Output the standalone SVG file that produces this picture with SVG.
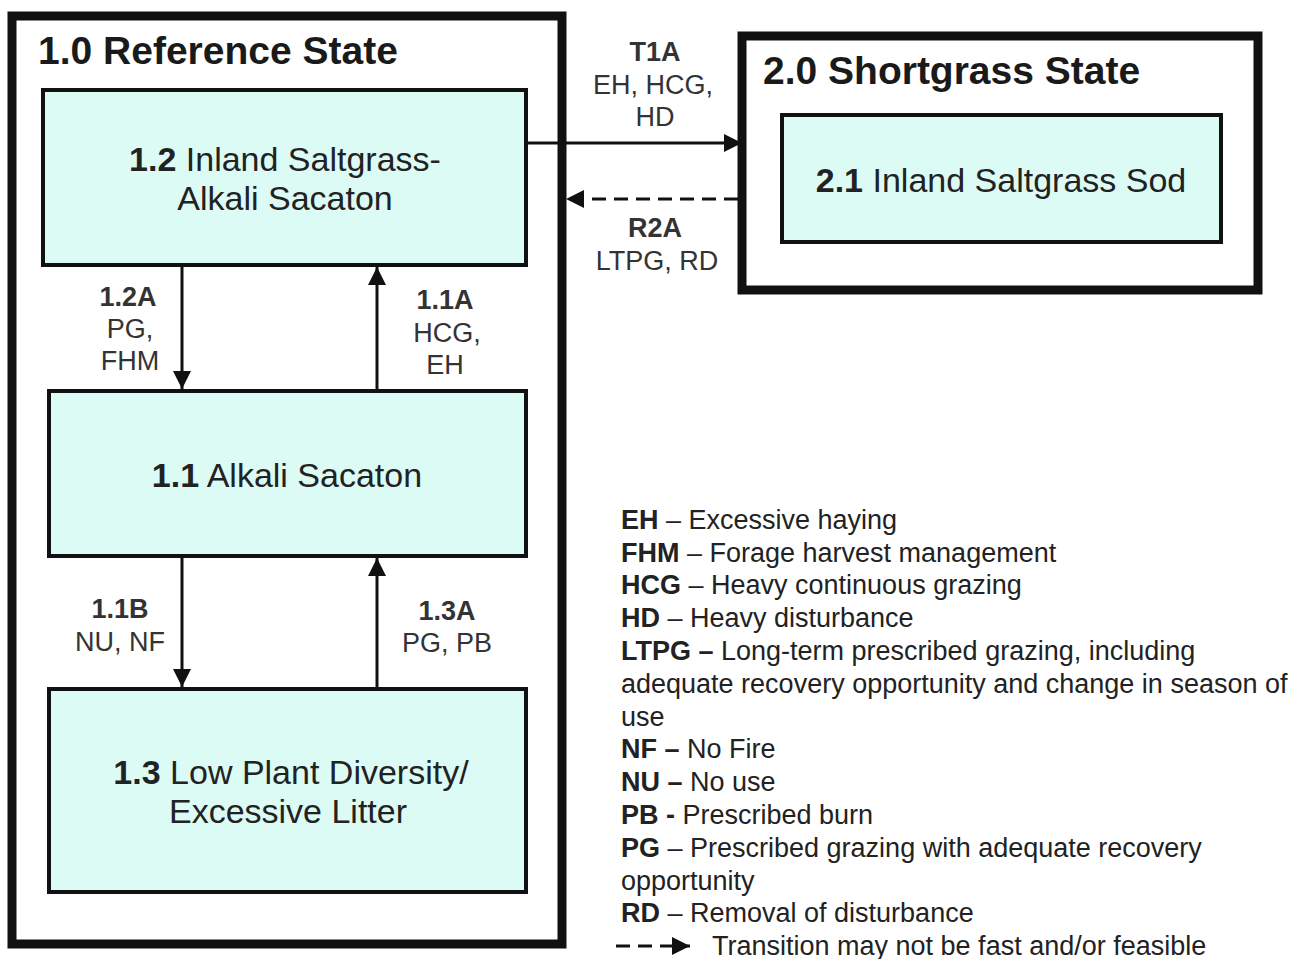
<svg xmlns="http://www.w3.org/2000/svg" width="1311" height="959" viewBox="0 0 1311 959">
<style>
.state{fill:#fff;stroke:#111;stroke-width:9}
.comm{fill:#dcfbf5;stroke:#111;stroke-width:4}
.title{font-family:"Liberation Sans",Arial,sans-serif;font-weight:bold;font-size:39px;fill:#1a1a1a}
.ntext{font-family:"Liberation Sans",Arial,sans-serif;font-size:34px;fill:#222;text-anchor:middle}
.lbl{font-family:"Liberation Sans",Arial,sans-serif;font-size:27px;fill:#333;text-anchor:middle}
.leg{font-family:"Liberation Sans",Arial,sans-serif;font-size:27px;fill:#222}
.b{font-weight:bold}
.conn{stroke:#111;stroke-width:3;fill:none}
.dash{stroke-dasharray:14,8}
</style>
<defs>
<marker id="ah" viewBox="0 0 10 10" refX="10" refY="5" markerWidth="6" markerHeight="6" orient="auto" markerUnits="strokeWidth">
<path d="M0,0 L10,5 L0,10 z" fill="#111"/>
</marker>
</defs>

<g id="state1">
<rect class="state" x="12" y="16" width="550" height="928"/>
<text class="title" x="38" y="64">1.0 Reference State</text>
</g>
<g id="state2">
<rect class="state" x="742" y="36" width="516" height="254"/>
<text class="title" x="763" y="84">2.0 Shortgrass State</text>
</g>

<g id="n12">
<rect class="comm" x="43" y="90" width="483" height="175"/>
<text class="ntext" x="285" y="171"><tspan class="b">1.2</tspan> Inland Saltgrass-</text>
<text class="ntext" x="285" y="210">Alkali Sacaton</text>
</g>
<g id="n11">
<rect class="comm" x="49" y="391" width="477" height="165"/>
<text class="ntext" x="287" y="487"><tspan class="b">1.1</tspan> Alkali Sacaton</text>
</g>
<g id="n13">
<rect class="comm" x="49" y="689" width="477" height="203"/>
<text class="ntext" x="291" y="784"><tspan class="b">1.3</tspan> Low Plant Diversity/</text>
<text class="ntext" x="288" y="823">Excessive Litter</text>
</g>
<g id="n21">
<rect class="comm" x="782" y="115" width="439" height="127"/>
<text class="ntext" x="1001" y="192"><tspan class="b">2.1</tspan> Inland Saltgrass Sod</text>
</g>

<g id="connectors">
<line class="conn" x1="182" y1="267" x2="182" y2="389" marker-end="url(#ah)"/>
<line class="conn" x1="377" y1="389" x2="377" y2="267" marker-end="url(#ah)"/>
<line class="conn" x1="182" y1="558" x2="182" y2="687" marker-end="url(#ah)"/>
<line class="conn" x1="377" y1="687" x2="377" y2="558" marker-end="url(#ah)"/>
<line class="conn" x1="526" y1="143" x2="742" y2="143" marker-end="url(#ah)"/>
<line class="conn dash" x1="738" y1="199" x2="566" y2="199" marker-end="url(#ah)"/>
</g>

<g id="labels">
<text class="lbl b" x="128" y="306">1.2A</text>
<text class="lbl" x="130" y="338">PG,</text>
<text class="lbl" x="130" y="370">FHM</text>
<text class="lbl b" x="445" y="309">1.1A</text>
<text class="lbl" x="447" y="342">HCG,</text>
<text class="lbl" x="445" y="374">EH</text>
<text class="lbl b" x="120" y="618">1.1B</text>
<text class="lbl" x="120" y="651">NU, NF</text>
<text class="lbl b" x="447" y="620">1.3A</text>
<text class="lbl" x="447" y="652">PG, PB</text>
<text class="lbl b" x="655" y="61">T1A</text>
<text class="lbl" x="653" y="94">EH, HCG,</text>
<text class="lbl" x="655" y="126">HD</text>
<text class="lbl b" x="655" y="237">R2A</text>
<text class="lbl" x="657" y="270">LTPG, RD</text>
</g>

<g id="legend">
<text class="leg" x="621" y="529"><tspan class="b">EH</tspan> – Excessive haying</text>
<text class="leg" x="621" y="562"><tspan class="b">FHM</tspan> – Forage harvest management</text>
<text class="leg" x="621" y="594"><tspan class="b">HCG</tspan> – Heavy continuous grazing</text>
<text class="leg" x="621" y="627"><tspan class="b">HD</tspan> – Heavy disturbance</text>
<text class="leg" x="621" y="660"><tspan class="b">LTPG –</tspan> Long-term prescribed grazing, including</text>
<text class="leg" x="621" y="693">adequate recovery opportunity and change in season of</text>
<text class="leg" x="621" y="726">use</text>
<text class="leg" x="621" y="758"><tspan class="b">NF –</tspan> No Fire</text>
<text class="leg" x="621" y="791"><tspan class="b">NU –</tspan> No use</text>
<text class="leg" x="621" y="824"><tspan class="b">PB -</tspan> Prescribed burn</text>
<text class="leg" x="621" y="857"><tspan class="b">PG</tspan> – Prescribed grazing with adequate recovery</text>
<text class="leg" x="621" y="890">opportunity</text>
<text class="leg" x="621" y="922"><tspan class="b">RD</tspan> – Removal of disturbance</text>
<line class="conn dash" x1="616" y1="946" x2="690" y2="946" stroke-dasharray="9,6" marker-end="url(#ah)"/>
<text class="leg" x="712" y="955">Transition may not be fast and/or feasible</text>
</g>
</svg>
